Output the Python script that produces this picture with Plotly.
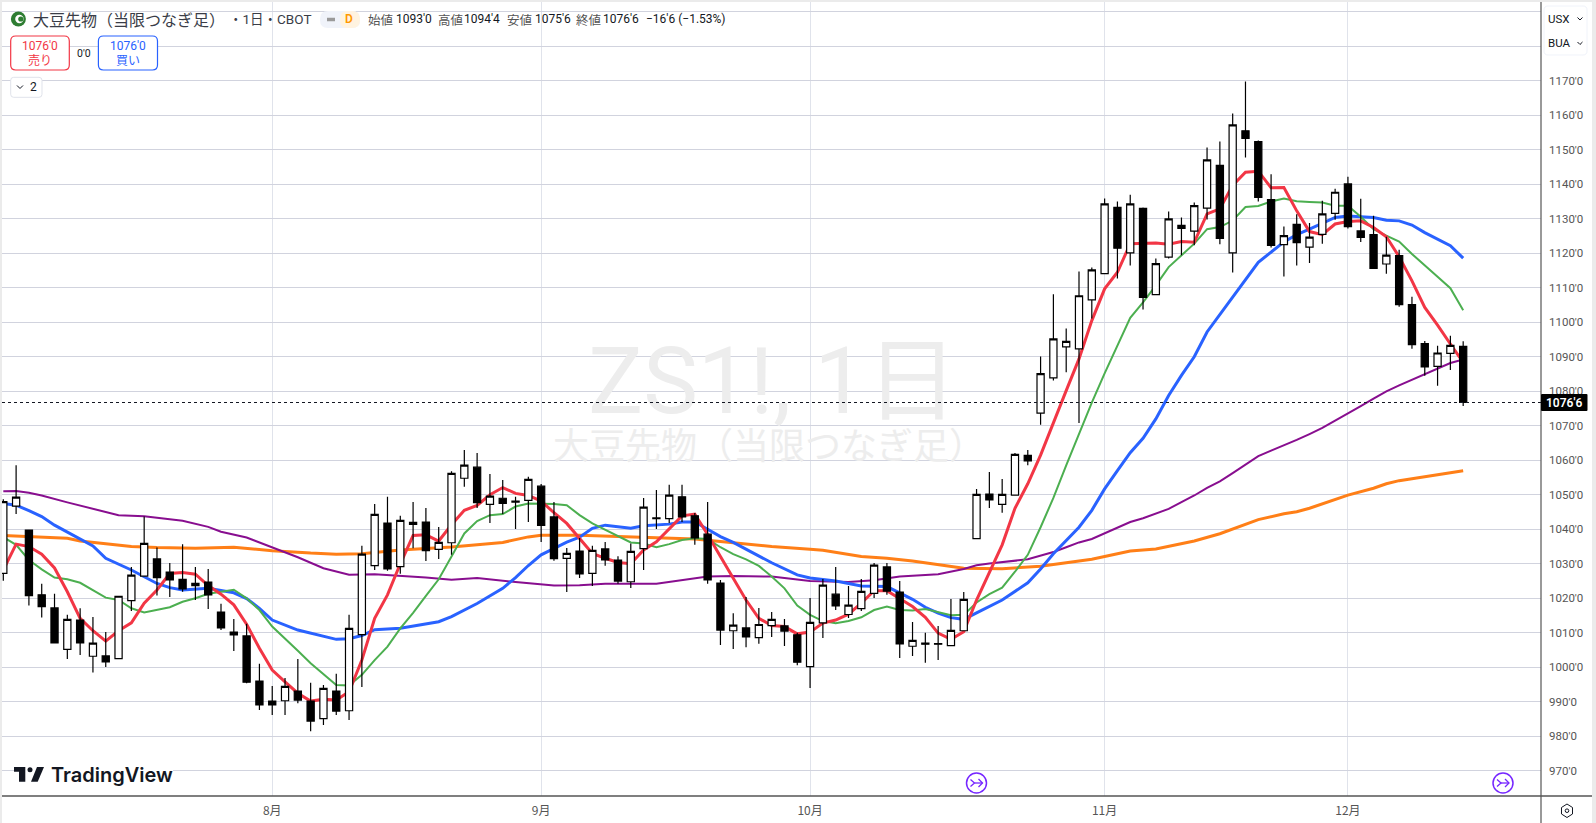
import plotly.graph_objects as go

opens = [1027.2,1046.7,1039.8,1021,1017.2,1005.2,1013.7,1003.2,1003.3,1002.5,1019.3,1026.4,1031.4,1027.6,1025.5,1023.7,1024.7,1016,1010.2,1009.1,
 996,990.2,990.3,993.1,990.2,985.1,993.1,987.4,1009.5,1029.5,1041.8,1029.2,1042,1042.1,1034.2,1036.1,1054.8,1058,1047.2,1049,
 1048.2,1048.4,1052.5,1043.6,1031.6,1033.7,1027.2,1034.3,1031.1,1024.8,1034.4,1043.3,1043.1,1049.4,1043.9,1038.6,1024.4,1010.6,1011.4,1008.6,
 1012.1,1012,1009.4,1000.2,1012.9,1021.2,1015.3,1017,1021.4,1029.1,1021.8,1006.1,1007,1006.9,1006.3,1010.6,1037.3,1050.2,1047.2,1049.9,
 1061.4,1073.7,1083.9,1092.9,1092.3,1106.5,1114.1,1133.3,1120.1,1133,1108,1118.9,1128.1,1126.4,1133.1,1145.5,1120.1,1155.5,1152.4,1135.6,
 1122.5,1128.4,1121.8,1125.5,1131.6,1140.1,1126.5,1125.4,1116.9,1119.3,1105.1,1093.8,1087.2,1091,1093]
highs = [1048.7,1058.6,1039.8,1024.2,1021.3,1015.2,1017.1,1014.6,1010.2,1020.6,1029.1,1043.7,1034.7,1030.2,1035.7,1029.1,1028.5,1018.4,1014,1012.6,
 1001,994.6,996.9,1002.4,995.5,994.9,998.1,1015.2,1035.2,1047.3,1049.4,1043.9,1047.9,1046.2,1040.7,1056.8,1063,1062.1,1056,1054.3,
 1049.4,1055.2,1053.1,1047.9,1034.6,1037.5,1035.2,1036.3,1032.2,1035.9,1049.1,1051.4,1052.9,1052.9,1044.7,1047.9,1025.3,1015.7,1020.4,1017.2,
 1016,1014,1010,1020.1,1025.6,1029.1,1023.6,1025.6,1030.2,1030.2,1025,1013.1,1010,1012,1019.8,1021.8,1051.7,1056.6,1054.6,1062.1,
 1063,1090.1,1108.1,1098.2,1114.7,1115.9,1135.9,1135,1137,1133.3,1118.5,1132.1,1130.4,1134.7,1150.7,1152.4,1160.5,1169.8,1152.7,1142.9,
 1127.8,1131.3,1128.8,1135.2,1138.7,1142.2,1135.8,1130.9,1124.8,1121,1107.4,1094.6,1093.2,1096.1,1094.5]
lows = [1025.1,1044.4,1017.9,1014.4,1007.1,1002.4,1003.6,998.5,1000.1,1002.5,1016.3,1026.4,1020.8,1020.4,1021.9,1019.5,1016.9,1010.8,1004.7,995.4,
 987.6,986.2,986.2,989.6,981.5,983.3,986.2,984.7,994.3,1028.2,1028,1027.1,1034.5,1030.8,1031.4,1032.6,1052.3,1046.2,1041.8,1044.4,
 1040.1,1042.1,1036.3,1030.9,1021.8,1025.9,1023.6,1029.4,1024.2,1023,1028.2,1040.1,1041.8,1042.1,1035.5,1024.2,1006.5,1005.3,1005.8,1006.8,
 1008.8,1006.2,1000.6,994,1008.5,1016.6,1014.3,1016.3,1020.1,1021,1002.7,1003.3,1001.3,1002.1,1006.3,1010.6,1037.3,1046.2,1044.8,1049.9,
 1058.6,1070.3,1083.1,1085.5,1070.8,1101.1,1114.1,1112.7,1116.5,1103.7,1108,1118.5,1119.4,1122.3,1129.8,1122.6,1114.4,1147.8,1135,1121.7,
 1113.3,1116.5,1117.2,1122.8,1129.7,1127.2,1123.3,1115.6,1114.1,1104.5,1092.3,1084.5,1081.6,1086.2,1075.75]
closes = [1048,1049.3,1020.8,1017.6,1007.1,1013.9,1007.1,1007,1001.6,1020.6,1026.7,1035.9,1026,1025.3,1022.7,1024.3,1021,1011.4,1009.4,995.7,
 989.1,989.1,994.5,990.5,984.4,993.9,987.3,1011.3,1032.8,1044.3,1028.5,1042.6,1041.4,1033.8,1036.2,1056.2,1058.6,1047.7,1049.6,1047.5,
 1047.9,1054.5,1041.1,1031.5,1033,1027.1,1033.9,1031.1,1025,1033.6,1046.4,1043.1,1049.9,1043.6,1037.5,1025.3,1010.8,1012.2,1008.8,1012.4,
 1013.9,1010.5,1001.5,1013,1023.8,1017.8,1018,1022,1029.6,1022.1,1006.8,1007.8,1006.7,1006.7,1010.7,1019.7,1050.1,1048.5,1050.1,1061.7,
 1059.8,1085.1,1095.2,1094.5,1107.7,1115.2,1134.3,1121.5,1134.3,1107.2,1117,1130,1127.2,1133.8,1147.1,1124.3,1157.2,1153.3,1136.2,1122.3,
 1125.1,1123.1,1124.7,1131.4,1137.7,1127.7,1124.6,1115.6,1119.5,1105.1,1093.5,1087.1,1091.1,1093.3,1076.75]

red_ma = [1028.2,1035.7,1035,1032.8,1028.8,1021.9,1014.2,1010.6,1007.6,1010.6,1012.9,1018.6,1022.4,1027.2,1027.5,1027,1023.7,1021.2,1018.1,1012.5,
 1005.5,999.2,995.8,992.5,990.2,990.7,990.5,992.9,1002.1,1014.2,1021,1030,1038.2,1038.4,1036.6,1041.3,1045.5,1046.9,1050,1052.1,
 1050.4,1049.8,1048.2,1044.8,1041.7,1037.4,1033,1031.6,1030.4,1030,1034,1036.4,1040.3,1043.9,1044.4,1038.5,1032.1,1025.8,1019.5,1014.2,
 1012.1,1011.8,1009.7,1010.2,1012.8,1013.7,1015.4,1018.6,1022.2,1022.2,1020,1017.6,1014.5,1009.9,1008.1,1010.3,1019.5,1027.7,1035.5,1046.1,
 1053.2,1061.5,1070.6,1080.2,1089.4,1100.5,1109.7,1114.5,1122.8,1122.8,1123,1122.6,1123.4,1123.2,1131.4,1132.9,1139.7,1143.5,1143.8,1139,
 1139.1,1132.3,1126.3,1125.4,1128.5,1129.2,1129.4,1127.5,1124.8,1119,1112,1104.3,1099.2,1093.7,1088.4]
green_ma = [1037.7,1035.5,1031.1,1028.4,1026,1025.5,1024.5,1022.4,1020.2,1019.5,1017.1,1015.9,1016.6,1017.4,1019,1020,1021.3,1021.9,1022.5,1020,
 1016.6,1011.8,1008.4,1004.8,1001.2,998,994.9,994.7,997.8,1002.1,1006,1011.3,1015.8,1020.7,1025.5,1032.1,1038.8,1042.4,1044.1,1044.4,
 1046.6,1047.5,1047.5,1047.3,1047,1044.1,1041.7,1039.8,1037.9,1036.2,1035.9,1034.8,1035.7,1036.9,1037.4,1037.2,1034.8,1032.8,1031.3,1029.4,
 1026.3,1022.9,1017.9,1015.2,1013.4,1012.8,1013.4,1014.5,1016.6,1017.6,1016.6,1016.5,1016.9,1016.1,1015.1,1015.2,1018.8,1021.2,1023.1,1027.7,
 1032.6,1040.6,1049.1,1058.5,1067.6,1076.7,1085.2,1093,1101.3,1105.8,1110.7,1116,1119.4,1122.8,1127,1127.6,1129.5,1133.4,1133.7,1135,
 1135.9,1135.1,1134.9,1134.7,1133.8,1133.8,1130.6,1127,1125.1,1123.4,1119.8,1116.4,1113.2,1109.9,1103.5]
blue_idx = [0,1,2,3,4,6,7,8,10,12,13,14,16,18,19,20,21,23,25,26,27,28,29,31,34,35,37,38,39,40,41,42,44,45,46,47,49,50,52,53,54,55,56,57,59,60,62,63,65,66,67,69,70,71,72,73,74,75,76,78,80,81,82,83,84,85,86,87,88,89,90,91,92,93,94,96,98,100,101,102,103,104,105,107,108,109,110,111,113,114]
blue_ma = [1047.5,1047,1045.4,1043.7,1041.2,1037.1,1035.2,1031.6,1028.2,1024.3,1023.1,1022.4,1022.9,1021.6,1019.9,1017.1,1013.7,1010.8,1008.9,1008.1,1008.3,1009.2,1010.9,1011.3,1013.2,1014.7,1018.5,1020.7,1022.9,1026,1029.5,1032.6,1036.3,1037.7,1040.3,1041.2,1040.3,1041,1041.5,1042.1,1042.1,1040,1037.9,1036.2,1032.3,1030.3,1026.8,1025.9,1025,1024.2,1023.6,1023.4,1021.5,1019.7,1017.4,1015.7,1014.4,1013.9,1015.8,1019.5,1024.5,1028.5,1032.9,1036.8,1040.6,1045.5,1051.7,1057,1062.2,1066.4,1072,1078.8,1084.6,1090,1097.2,1107.3,1117.4,1123.3,1125.4,1127,1128.6,1130.4,1130.8,1130.4,1129.6,1129.4,1128.2,1126,1122.2,1118.6]
purple_idx = [0,1,2,3,5,7,9,11,14,16,17,19,21,23,25,27,29,31,33,35,37,40,43,45,47,51,53,55,57,60,63,66,68,70,73,75,76,77,80,82,83,84,85,86,87,88,89,90,91,92,93,94,95,96,97,98,99,100,101,102,103,104,105,106,107,108,109,110,111,112,113,114]
purple_ma = [1051,1051.1,1050.6,1049.8,1047.8,1045.9,1044.1,1043.8,1042.5,1040.7,1039.3,1037.6,1034.8,1031.9,1028.7,1026.8,1027,1026.6,1026,1025.4,1025.9,1024.7,1023.7,1023.8,1024.2,1024.2,1025.2,1026.3,1026.5,1026.3,1025,1024.7,1025.2,1026.3,1027,1028.5,1029.6,1030.1,1031.3,1033.4,1034.8,1036.2,1037.2,1038.9,1040.4,1042.1,1043.2,1044.5,1045.9,1047.9,1049.8,1052,1053.9,1056.3,1058.7,1061.2,1062.8,1064.3,1065.9,1067.6,1069.4,1071.5,1073.5,1075.7,1077.9,1080,1081.7,1083.3,1084.8,1086.6,1088.2,1089.2]
orange_idx = [0,4,5,6,8,10,12,15,18,21,24,26,28,31,35,37,39,41,42,45,48,51,54,55,57,58,60,63,64,67,69,71,73,75,78,80,81,82,84,85,86,87,88,90,92,93,95,96,98,100,101,102,104,105,107,108,109,111,113,114]
orange_ma = [1038.2,1037.5,1037.4,1036.6,1035.7,1035,1034.7,1034.5,1034.8,1033.8,1033.1,1032.8,1032.9,1034,1034.9,1035.6,1036.2,1037.8,1038.3,1038.3,1037.9,1037.7,1037.2,1036.8,1036.1,1035.7,1035,1034.2,1033.9,1032.1,1031.6,1030.8,1029.8,1028.7,1028.6,1029.1,1029.3,1029.8,1030.7,1031.3,1032.1,1033,1033.7,1034.3,1035.7,1036.6,1038.7,1040.1,1042.8,1044.5,1045.1,1046.1,1048.6,1049.9,1051.9,1053.2,1054.1,1055.3,1056.5,1057]

price_ticks = [970,980,990,1000,1010,1020,1030,1040,1050,1060,1070,1080,1090,1100,1110,1120,1130,1140,1150,1160,1170,1180,1190]
price_labels = ["970'0","980'0","990'0","1000'0","1010'0","1020'0","1030'0","1040'0","1050'0","1060'0","1070'0","1080'0","1090'0","1100'0","1110'0","1120'0","1130'0","1140'0","1150'0","1160'0","1170'0","",""]
month_ticks = [21,42,63,86,105]
month_labels = ["8月","9月","10月","11月","12月"]
last_price = 1076.75
last_label = "1076'6"
wm_main = "ZS1!, 1日"
wm_sub = "大豆先物（当限つなぎ足）"

W, H = 1596, 823
L, R, T, B = 2, 1541, 2, 796
X_STEP, X_ZERO = 12.806, 3.3
Y_STEP, Y_REF_PX, Y_REF = 3.45, 460.3, 1060
xr = [(L - X_ZERO) / X_STEP, (R - X_ZERO) / X_STEP]
yr = [Y_REF - (B - Y_REF_PX) / Y_STEP, Y_REF + (Y_REF_PX - T) / Y_STEP]
fx = lambda x: (x - L) / (R - L)
fy = lambda y: (B - y) / (B - T)
FONT = "Roboto, 'Noto Sans CJK JP', sans-serif"
JP = "'Noto Sans CJK JP', sans-serif"

shapes, annos = [], []
def path(pts, line=None, width=1, fill=None, close=False):
    d = "M" + " L".join(f"{fx(a):.5f},{fy(b):.5f}" for a, b in pts) + (" Z" if close else "")
    shapes.append(dict(type="path", xref="paper", yref="paper", path=d, layer="above",
                       line=dict(color=line or "rgba(0,0,0,0)", width=width if line else 0),
                       fillcolor=fill or "rgba(0,0,0,0)"))
def rrect(x0, y0, x1, y1, r, line=None, fill="#ffffff", width=1):
    p = lambda a, b: f"{fx(a):.5f},{fy(b):.5f}"
    d = (f"M{p(x0+r,y0)} L{p(x1-r,y0)} Q{p(x1,y0)} {p(x1,y0+r)} L{p(x1,y1-r)} Q{p(x1,y1)} {p(x1-r,y1)} "
         f"L{p(x0+r,y1)} Q{p(x0,y1)} {p(x0,y1-r)} L{p(x0,y0+r)} Q{p(x0,y0)} {p(x0+r,y0)} Z")
    shapes.append(dict(type="path", xref="paper", yref="paper", path=d, layer="above",
                       line=dict(color=line or "rgba(0,0,0,0)", width=width if line else 0), fillcolor=fill))
def circ(cx, cy, r, line=None, fill="#ffffff", width=1):
    shapes.append(dict(type="circle", xref="paper", yref="paper", layer="above",
                       x0=fx(cx-r), x1=fx(cx+r), y0=fy(cy+r), y1=fy(cy-r),
                       line=dict(color=line or "rgba(0,0,0,0)", width=width if line else 0), fillcolor=fill))
def text(x, y, s, size=12, color="#131722", anchor="left", family=FONT, weight=None):
    f = dict(size=size, color=color, family=family)
    if weight: f["weight"] = weight
    annos.append(dict(xref="paper", yref="paper", x=fx(x), y=fy(y), text=s, showarrow=False,
                      xanchor=anchor, yanchor="middle", font=f, borderpad=0, borderwidth=0))

# window edge strips
for x0, y0, x1, y1 in [(0, 0, 2, H), (0, 0, W, 2), (1592, 0, W, H)]:
    shapes.append(dict(type="rect", xref="paper", yref="paper", layer="above", x0=fx(x0), x1=fx(x1), y0=fy(y1), y1=fy(y0),
                       line=dict(width=0), fillcolor="#ebebeb"))
# axis rules
path([(R, T), (R, H)], line="#555555", width=1.2)
path([(L, B), (1592, B)], line="#555555", width=1.6)
# dotted last price line
path([(L, Y_REF_PX + (Y_REF - last_price) * Y_STEP), (R, Y_REF_PX + (Y_REF - last_price) * Y_STEP)], line="#131722", width=1)
shapes[-1]["line"]["dash"] = "dot"
# last price tag
rrect(R, 394, 1587.5, 411, 1, fill="#000000")
text(1564, 402.5, last_label, size=12, color="#ffffff", anchor="center", weight=600)

# top-left legend
circ(18.4, 19, 7.5, fill="#2e7d32")
circ(19.4, 19, 4.2, fill="#ffffff")
circ(20.8, 19, 2.6, fill="#2e7d32")
text(33, 19.5, "大豆先物（当限つなぎ足）", size=16, color="#3a3d47", family=JP)
text(229, 19.5, "・1日・CBOT", size=13.5, color="#3a3d47")
rrect(320, 11, 360, 28, 8, fill="#f0f3fa")
rrect(340, 11, 360, 28, 8, fill="#fff3e0")
path([(327, 19.5), (335, 19.5)], line="#9a9a9a", width=3.5)
text(348.5, 19.5, "D", size=12, color="#ff9800", anchor="center", weight=600)
ohlc = [(368, "始値", 396, "1093'0"), (438, "高値", 464, "1094'4"), (507, "安値", 535, "1075'6"), (576, "終値", 603, "1076'6")]
for lx, lab, vx, val in ohlc:
    text(lx, 19.5, lab, size=12.5, color="#555555", family=JP)
    text(vx, 19.5, val, size=12, color="#131722")
text(646, 19.5, "−16'6 (−1.53%)", size=12, color="#131722")

# trade buttons
rrect(10.7, 36, 69.3, 70, 5, line="#f23645", width=1.2)
text(40, 46, "1076'0", size=12, color="#f23645", anchor="center")
text(40, 60, "売り", size=12, color="#f23645", anchor="center", family=JP)
text(84, 53, "0'0", size=10.5, color="#131722", anchor="center")
rrect(98.4, 36, 157.5, 70, 5, line="#2962ff", width=1.2)
text(128, 46, "1076'0", size=12, color="#2962ff", anchor="center")
text(128, 60, "買い", size=12, color="#2962ff", anchor="center", family=JP)
rrect(10.7, 77.3, 42, 97.3, 3, line="#e0e3eb", width=1)
path([(17, 85.5), (20, 88.5), (23, 85.5)], line="#131722", width=1)
text(33, 87.5, "2", size=12, color="#131722", anchor="center")

# top-right currency and unit box
rrect(1544, 6, 1587, 55, 4, line="#f0f3fa", width=1)
text(1548, 18.5, "USX", size=11.5, color="#131722")
text(1548, 43, "BUA", size=11.5, color="#131722")
for cy in (18.5, 43):
    path([(1577.5, cy-1), (1580, cy+1.5), (1582.5, cy-1)], line="#131722", width=1)

# TradingView mark
shapes.append(dict(type="rect", xref="paper", yref="paper", layer="above", x0=fx(14), x1=fx(173), y0=fy(787), y1=fy(763),
                   line=dict(width=0), fillcolor="#ffffff"))
path([(14, 767), (25.3, 767), (25.3, 781.7), (19, 781.7), (19, 771.7), (14, 771.7)], fill="#131722", close=True)
circ(30, 769.7, 2.5, fill="#131722")
path([(37, 767), (44, 767), (37.7, 781.7), (31, 781.7)], fill="#131722", close=True)
text(51, 774.5, "TradingView", size=20, color="#131722", family="Inter, sans-serif", weight=600)

# session break markers
for cx in (976.5, 1503):
    circ(cx, 783, 10, line="#7626ff", width=1.5)
    path([(cx-6, 779.5), (cx-2, 783), (cx-6, 786.5)], line="#7626ff", width=1.3)
    path([(cx-2, 783), (cx+6, 783)], line="#7626ff", width=1.3)
    path([(cx+2, 779), (cx+6, 783), (cx+2, 787)], line="#7626ff", width=1.3)

# settings icon, bottom right
path([(1567, 804), (1572.5, 807.5), (1572.5, 814), (1567, 817.5), (1561.5, 814), (1561.5, 807.5)], line="#131722", width=1, close=True)
circ(1567, 810.7, 1.8, line="#131722", width=1)

to_x = lambda px: (px - X_ZERO) / X_STEP
to_y = lambda py: Y_REF + (Y_REF_PX - py) / Y_STEP

fig = go.Figure()
fig.add_trace(go.Scatter(x=[to_x(773)], y=[to_y(390)], mode="text", text=[wm_main], hoverinfo="skip", showlegend=False,
                         textfont=dict(size=92, color="#ededed", family=FONT), textposition="middle center"))
fig.add_trace(go.Scatter(x=[to_x(769)], y=[to_y(450)], mode="text", text=[wm_sub], hoverinfo="skip", showlegend=False,
                         textfont=dict(size=36, color="#ededed", family=JP), textposition="middle center"))
idx = list(range(len(closes)))
for xs, ys, col, w in [(orange_idx, orange_ma, "#ff7f17", 3), (purple_idx, purple_ma, "#880e8f", 2),
                       (blue_idx, blue_ma, "#2962ff", 3), (idx, green_ma, "#4caf50", 2), (idx, red_ma, "#f23645", 3)]:
    fig.add_trace(go.Scatter(x=xs, y=ys, mode="lines", line=dict(color=col, width=w), hoverinfo="skip", showlegend=False))
fig.add_trace(go.Candlestick(x=idx, open=opens, high=highs, low=lows, close=closes, xaxis="x2", yaxis="y2",
                             whiskerwidth=0, showlegend=False,
                             increasing=dict(line=dict(color="#000000", width=1.2), fillcolor="#ffffff"),
                             decreasing=dict(line=dict(color="#000000", width=1.2), fillcolor="#000000")))

fig.update_layout(
    width=W, height=H, autosize=False,
    margin=dict(l=L, r=W-R, t=T, b=H-B, pad=0),
    paper_bgcolor="#ffffff", plot_bgcolor="#ffffff", showlegend=False,
    font=dict(family=FONT), boxgap=0.2,
    xaxis=dict(range=xr, tickmode="array", tickvals=month_ticks, ticktext=month_labels, showgrid=True, gridcolor="#e0e3eb", gridwidth=1,
               zeroline=False, showline=False, ticks="", ticklabelstandoff=6, tickfont=dict(size=12, color="#555555", family=JP), fixedrange=True,
               rangeslider=dict(visible=False)),
    yaxis=dict(range=yr, side="right", tickmode="array", tickvals=price_ticks, ticktext=price_labels, showgrid=True, gridcolor="#d1d3de", gridwidth=1.3,
               zeroline=False, showline=False, ticks="", ticklabelstandoff=7, tickfont=dict(size=11.5, color="#555555", family=FONT), fixedrange=True),
    xaxis2=dict(range=xr, overlaying="x", anchor="y2", visible=False, fixedrange=True, rangeslider=dict(visible=False)),
    yaxis2=dict(range=yr, overlaying="y", anchor="x2", side="right", visible=False, fixedrange=True),
    shapes=shapes, annotations=annos,
)
fig.write_html("out.html", config=dict(displayModeBar=False),
               post_script="document.body.style.margin='0';")
